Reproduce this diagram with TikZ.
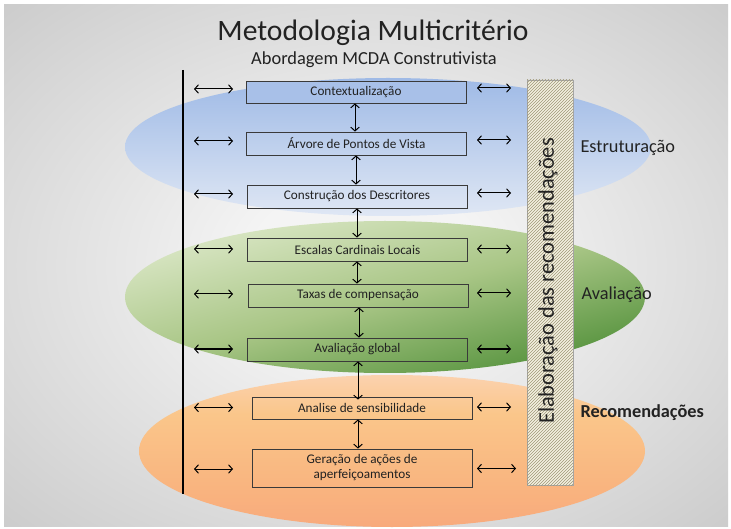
\documentclass[tikz,border=0pt]{standalone}
\usepackage{fontspec}
\setmainfont{Carlito}
\usetikzlibrary{arrows.meta,patterns,calc}
\definecolor{bgin}{HTML}{F4F4F4}
\definecolor{bgout}{HTML}{979797}
\definecolor{bluetop}{HTML}{9FBAE6}
\definecolor{bluebot}{HTML}{DFE7F4}
\definecolor{greentop}{HTML}{DCE8C8}
\definecolor{greenmid}{HTML}{A9C686}
\definecolor{greenbot}{HTML}{53913B}
\definecolor{orgtop}{HTML}{FDE2E6}
\definecolor{orgpeach}{HTML}{FCD6BC}
\definecolor{orgmid}{HTML}{FAC68A}
\definecolor{orgmid2}{HTML}{F9B47F}
\definecolor{orgbot}{HTML}{F7A27A}
\definecolor{boxone}{HTML}{A8C0E8}
\definecolor{cream}{HTML}{F4F0E0}
\definecolor{hatch}{HTML}{9E9878}
\definecolor{boxline}{HTML}{3A3A3A}
\definecolor{txt}{HTML}{222222}
\pgfdeclareradialshading{bgshade}{\pgfpoint{0bp}{0bp}}{color(0bp)=(bgin); color(8bp)=(bgin); color(72bp)=(bgout)}
\pgfdeclareverticalshading{orgshade}{100bp}{color(0bp)=(orgbot); color(15bp)=(orgbot); color(38bp)=(orgmid2); color(62bp)=(orgmid); color(80bp)=(orgpeach); color(90bp)=(orgtop); color(100bp)=(orgtop)}
\begin{document}
\begin{tikzpicture}[x=1pt,y=-1pt,
  stepbox/.style={draw=boxline, line width=0.8pt, minimum width=220pt, minimum height=23pt, inner sep=1pt, align=center, text=txt, font=\fontsize{13.2}{15}\selectfont},
  link/.style={<->, line width=1pt, >={Straight Barb[length=3.8pt,width=8.5pt]}},
  phase/.style={anchor=west, text=txt, font=\fontsize{18.3}{21}\selectfont}]
\useasboundingbox (0,0) rectangle (731,529);
\fill[white] (0,0) rectangle (731,529);
\path[shading=bgshade] (4,5) rectangle (728,526);
% ellipses
\path[top color=bluetop, bottom color=bluebot] (388,147) ellipse (263 and 69);
\path[top color=greentop, bottom color=greenbot, middle color=greenmid, shading angle=15] (385,297) ellipse (260 and 76);
\path[shading=orgshade] (392,451) ellipse (253 and 76);
% title
\node[text=txt] (title) at (373,33) {\fontsize{29.6}{34}\selectfont Metodologia Multicritério};
\node[text=txt] (subtitle) at (374,60) {\fontsize{18.4}{21}\selectfont Abordagem MCDA Construtivista};
% vertical line
\coordinate (vt) at (183,70);
\coordinate (vb) at (183,494);
\draw[line width=2.5pt] (vt) -- (vb);
% boxes
\node[stepbox, fill=boxone, minimum height=22pt] (b1) at (356,92) {Contextualização};
\node[stepbox] (b2) at (356.5,143.5) {Árvore de Pontos de Vista};
\node[stepbox] (b3) at (357,196.5) {Construção dos Descritores};
\node[stepbox] (b4) at (357.5,249.5) {Escalas Cardinais Locais};
\node[stepbox] (b5) at (358,295.5) {Taxas de compensação};
\node[stepbox] (b6) at (357.5,349.5) {Avaliação global};
\node[stepbox, minimum height=22pt] (b7) at (362,408) {Analise de sensibilidade};
\node[stepbox, minimum height=38pt] (b8) at (362,468) {Geração de ações de\\aperfeiçoamentos};
% vertical links
\coordinate (xa) at (355,0);
\coordinate (xb) at (356,0);
\coordinate (xc) at (357,0);
\coordinate (xd) at (359,0);
\coordinate (xe) at (358,0);
\draw[link] (b1.south -| xa) -- (b2.north -| xa);
\draw[link] (b2.south -| xb) -- (b3.north -| xb);
\draw[link] (b3.south -| xc) -- (b4.north -| xc);
\draw[link] (b4.south -| xc) -- (b5.north -| xc);
\draw[link] (b5.south -| xd) -- (b6.north -| xd);
\draw[link] (b6.south -| xe) -- ([yshift=-3pt]b7.north -| xe);
\draw[link] (b7.south -| xe) -- (b8.north -| xe);
% side links
\coordinate (L1) at (194,0);
\coordinate (L2) at (233,0);
\coordinate (R1) at (477,0);
\coordinate (R2) at (511,0);
\foreach \b/\dy in {b1/3,b2/2.5,b3/2.5,b4/0.5,b5/1.5,b6/0.5,b7/0.5,b8/-1}{
  \draw[link] ([yshift=\dy pt]\b.center -| L1) -- ([yshift=\dy pt]\b.center -| L2);
}
\foreach \b/\dy in {b1/4,b2/3.5,b3/3.5,b4/0.5,b5/2.5,b6/0.5,b7/1}{
  \draw[link] ([yshift=\dy pt]\b.center -| R1) -- ([yshift=\dy pt]\b.center -| R2);
}
\coordinate (R3) at (516,0);
\draw[link] ([yshift=-0.5pt]b8.center -| R1) -- ([yshift=-0.5pt]b8.center -| R3);
% hatched bar
\node[draw=gray!70, line width=0.4pt, fill=cream, minimum width=46pt, minimum height=405pt, inner sep=0pt,
  postaction={pattern=north east lines, pattern color=hatch}] (bar) at (550,282.5) {};
\node[rotate=90, text=txt, font=\fontsize{22.4}{26}\selectfont] (bartext) at (548,281) {Elaboração das recomendações};
% phase labels
\node[phase] (est) at (577,148) {Estruturação};
\node[phase] (ava) at (578,295) {Avaliação};
\node[phase, font=\bfseries\fontsize{18.3}{21}\selectfont] (rec) at (577,413) {Recomendações};
\end{tikzpicture}
\end{document}
